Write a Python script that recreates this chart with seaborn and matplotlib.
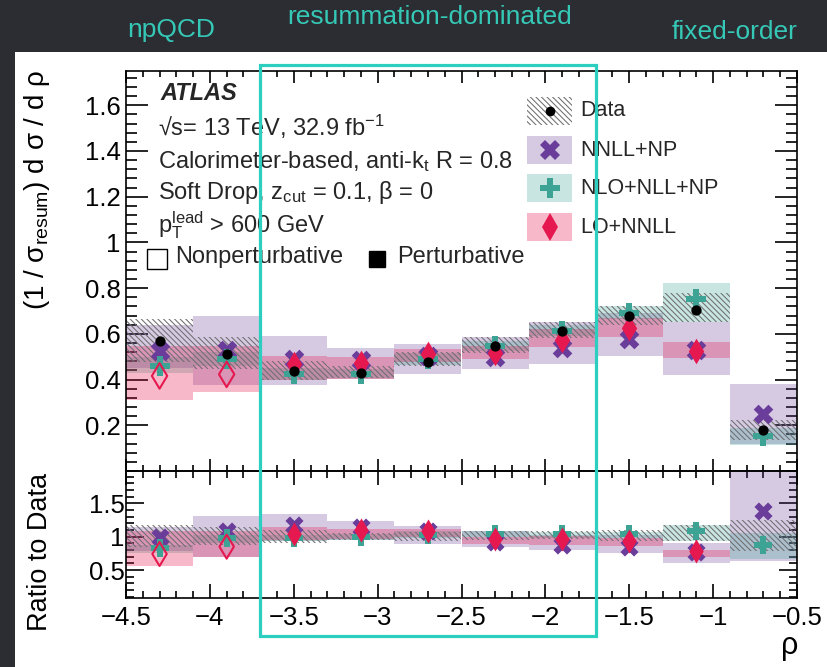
import numpy as np
import pandas as pd
import matplotlib
matplotlib.use("Agg")
import matplotlib.pyplot as plt
import matplotlib.transforms as mtransforms
from matplotlib.patches import Rectangle
from matplotlib.lines import Line2D
from matplotlib.ticker import MultipleLocator, FuncFormatter
import seaborn as sns

# ---------------- data ----------------
rho = [-4.3, -3.9, -3.5, -3.1, -2.7, -2.3, -1.9, -1.5, -1.1, -0.7]
bin_width = 0.4
nonpert = [True, True, False, False, False, False, False, False, False, False]

data_val = [0.569, 0.513, 0.436, 0.428, 0.477, 0.546, 0.614, 0.680, 0.704, 0.178]
data_lo = [0.475, 0.447, 0.397, 0.407, 0.458, 0.518, 0.580, 0.640, 0.650, 0.137]
data_hi = [0.665, 0.585, 0.483, 0.461, 0.520, 0.585, 0.650, 0.720, 0.780, 0.224]

nnll_val = [0.524, 0.531, 0.492, 0.484, 0.503, 0.500, 0.540, 0.578, 0.531, 0.248]
nnll_lo = [0.450, 0.375, 0.378, 0.404, 0.425, 0.447, 0.469, 0.505, 0.420, 0.116]
nnll_hi = [0.640, 0.677, 0.590, 0.538, 0.555, 0.585, 0.650, 0.690, 0.650, 0.382]

nlo_val = [0.459, 0.488, 0.423, 0.423, 0.488, 0.546, 0.611, 0.691, 0.752, 0.151]
nlo_lo = [0.430, 0.460, 0.400, 0.405, 0.465, 0.525, 0.590, 0.665, 0.650, 0.115]
nlo_hi = [0.500, 0.520, 0.450, 0.445, 0.515, 0.570, 0.640, 0.720, 0.824, 0.190]

lo_val = [0.416, 0.423, 0.466, 0.471, 0.510, 0.518, 0.572, 0.626, 0.527]
lo_lo = [0.310, 0.347, 0.396, 0.404, 0.477, 0.490, 0.542, 0.585, 0.494]
lo_hi = [0.548, 0.548, 0.504, 0.500, 0.533, 0.548, 0.620, 0.670, 0.565]

# ratio to data panel
r_data_lo = [0.84, 0.87, 0.90, 0.95, 0.94, 0.95, 0.96, 0.93, 0.93, 0.78]
r_data_hi = [1.17, 1.14, 1.10, 1.06, 1.07, 1.085, 1.085, 1.10, 1.175, 1.25]
r_nnll_val = [0.99, 1.09, 1.17, 1.15, 1.08, 0.92, 0.87, 0.84, 0.77, 1.38]
r_nnll_lo = [0.78, 0.70, 0.93, 0.95, 0.89, 0.84, 0.80, 0.75, 0.61, 0.64]
r_nnll_hi = [1.15, 1.31, 1.34, 1.24, 1.16, 1.08, 1.03, 1.03, 0.91, 2.08]
r_nlo_val = [0.83, 0.98, 0.98, 1.00, 1.03, 1.04, 1.04, 1.04, 1.08, 0.88]
r_nlo_lo = [0.76, 0.90, 0.93, 0.95, 0.98, 0.99, 0.98, 0.98, 0.93, 0.66]
r_nlo_hi = [0.88, 1.02, 1.03, 1.04, 1.08, 1.08, 1.07, 1.07, 1.17, 1.05]
r_lo_val = [0.74, 0.85, 1.04, 1.10, 1.08, 0.96, 0.96, 0.94, 0.78]
r_lo_lo = [0.56, 0.70, 0.95, 0.97, 1.00, 0.89, 0.88, 0.86, 0.70]
r_lo_hi = [1.08, 1.08, 1.15, 1.12, 1.12, 1.00, 1.01, 0.98, 0.80]

legend_labels = ["Data", "NNLL+NP", "NLO+NLL+NP", "LO+NNLL"]
region_labels = ["npQCD", "resummation-dominated", "fixed-order"]
resum_region = (-3.7, -1.7)

# ---------------- style ----------------
sns.set_theme(style="ticks")
plt.rcParams["font.family"] = ["Liberation Sans", "DejaVu Sans"]
plt.rcParams["mathtext.fontset"] = "custom"
plt.rcParams["mathtext.rm"] = "Liberation Sans"
plt.rcParams["mathtext.it"] = "Liberation Sans:italic"
plt.rcParams["hatch.linewidth"] = 0.75
plt.rcParams["axes.linewidth"] = 1.2

PURPLE = "#6a3d9a"
TEAL = "#3da394"
RED = "#e5194f"
HATCH_C = "#6e6e6e"
CYAN = "#2ccfbf"
BG = "#2b2d32"

W, H = 827, 667
fig = plt.figure(figsize=(W / 100, H / 100), dpi=100, facecolor=BG)


def fx(px):
    return px / W


def fy(py):
    return 1 - py / H


# white slide area
fig.add_artist(Rectangle((fx(15), 0), 1 - fx(15), fy(52), transform=fig.transFigure,
                         facecolor="white", edgecolor="none", zorder=-10))

ax1 = fig.add_axes([fx(126), fy(471), fx(797) - fx(126), fy(71) - fy(471)])
ax2 = fig.add_axes([fx(126), fy(598), fx(797) - fx(126), fy(471) - fy(598)])


def bands(ax, x, lo, hi, color, alpha, z, hatch=None):
    lo = np.asarray(lo)
    hi = np.asarray(hi)
    x = np.asarray(x[:len(lo)])
    if hatch:
        ax.bar(x, hi - lo, bottom=lo, width=bin_width, facecolor="none",
               edgecolor=HATCH_C, linewidth=0, hatch=hatch, zorder=z)
    else:
        ax.bar(x, hi - lo, bottom=lo, width=bin_width, color=color, alpha=alpha,
               linewidth=0, zorder=z)


def markers(ax, x, y, marker, color, s, z, open_mask=None):
    x = np.asarray(x[:len(y)])
    y = np.asarray(y)
    if open_mask is None:
        open_mask = np.zeros(len(y), bool)
    open_mask = np.asarray(open_mask[:len(y)])
    if (~open_mask).any():
        sns.scatterplot(x=x[~open_mask], y=y[~open_mask], ax=ax, marker=marker,
                        color=color, s=s, linewidth=0, zorder=z, legend=False)
    if open_mask.any():
        sns.scatterplot(x=x[open_mask], y=y[open_mask], ax=ax, marker=marker,
                        color=color, s=s, linewidth=1.5, zorder=z, legend=False)
        coll = ax.collections[-1]
        coll.set_facecolor("none")
        coll.set_edgecolor(color)


HATCH = "\\" * 6

# main panel
bands(ax1, rho, nnll_lo, nnll_hi, PURPLE, 0.27, 1.0)
bands(ax1, rho, nlo_lo, nlo_hi, TEAL, 0.28, 1.1)
bands(ax1, rho, lo_lo, lo_hi, RED, 0.30, 1.2)
bands(ax1, rho, data_lo, data_hi, None, None, 1.3, hatch=HATCH)
markers(ax1, rho, nnll_val, "X", PURPLE, 200, 3)
markers(ax1, rho, nlo_val, "P", TEAL, 190, 3.1)
markers(ax1, rho, lo_val, "d", RED, 170, 3.2, open_mask=nonpert)
markers(ax1, rho, data_val, "o", "black", 55, 3.3)

# ratio panel
bands(ax2, rho, r_nnll_lo, r_nnll_hi, PURPLE, 0.27, 1.0)
bands(ax2, rho, r_nlo_lo, r_nlo_hi, TEAL, 0.28, 1.1)
bands(ax2, rho, r_lo_lo, r_lo_hi, RED, 0.30, 1.2)
bands(ax2, rho, r_data_lo, r_data_hi, None, None, 1.3, hatch=HATCH)
markers(ax2, rho, r_nnll_val, "X", PURPLE, 170, 3)
markers(ax2, rho, r_nlo_val, "P", TEAL, 160, 3.1)
markers(ax2, rho, r_lo_val, "d", RED, 150, 3.2, open_mask=nonpert)

fmt = FuncFormatter(lambda v, p: ("%g" % v).replace("-", "\u2212"))

for ax in (ax1, ax2):
    ax.set_xlim(-4.5, -0.5)
    ax.set_xlabel("")
    ax.set_ylabel("")
    ax.grid(False)
    ax.set_facecolor("none")
    for sp in ax.spines.values():
        sp.set_visible(True)
        sp.set_color("black")
        sp.set_linewidth(1.2)
    ax.xaxis.set_major_locator(MultipleLocator(0.5))
    ax.xaxis.set_minor_locator(MultipleLocator(0.1))
    ax.tick_params(which="both", direction="in", top=True, right=True,
                   bottom=True, left=True, width=1.2, colors="black",
                   labelsize=18.5)

ax1.set_ylim(0, 1.75)
ax1.yaxis.set_major_locator(MultipleLocator(0.2))
ax1.yaxis.set_minor_locator(MultipleLocator(0.04))
ax1.yaxis.set_major_formatter(fmt)
ax1.tick_params(axis="x", which="major", length=8.5, labelbottom=False)
ax1.tick_params(axis="x", which="minor", length=4.3)
ax1.tick_params(axis="y", which="major", length=16, pad=4)
ax1.tick_params(axis="y", which="minor", length=8)
ax1.set_yticks([0.2, 0.4, 0.6, 0.8, 1.0, 1.2, 1.4, 1.6])

ax2.set_ylim(0.08, 1.985)
ax2.set_yticks([0.5, 1.0, 1.5])
ax2.yaxis.set_minor_locator(MultipleLocator(0.1))
ax2.yaxis.set_major_formatter(fmt)
ax2.xaxis.set_major_formatter(fmt)
ax2.tick_params(axis="x", which="major", length=10, pad=6)
ax2.tick_params(axis="x", which="minor", length=5)
ax2.tick_params(axis="y", which="major", length=13, pad=1)
ax2.tick_params(axis="y", which="minor", length=6)

# axis titles
fig.text(fx(37), fy(70), "(1 / σ$_{\\mathregular{resum}}$) d σ / d ρ", rotation=90,
         ha="center", va="top", fontsize=20, color="black")
fig.text(fx(40), fy(473), "Ratio to Data", rotation=90, ha="center", va="top",
         fontsize=19.5, color="black")
fig.text(fx(790), fy(646), "ρ", ha="center", va="center", fontsize=22, color="black")

# annotations
fig.text(fx(160), fy(93), "ATLAS", fontsize=17, fontweight="bold", fontstyle="italic",
         va="center", ha="left")
ann = [
    (127, "√s= 13 TeV, 32.9 fb$^{\\mathregular{-1}}$"),
    (162, "Calorimeter-based, anti-k$_{\\mathregular{t}}$ R = 0.8"),
    (193, "Soft Drop, z$_{\\mathregular{cut}}$ = 0.1, β = 0"),
    (225, "p$_{\\mathregular{T}}^{\\mathregular{lead}}$ > 600 GeV"),
]
for ypx, t in ann:
    fig.text(fx(158), fy(ypx), t, fontsize=17, va="center", ha="left")

fig.add_artist(Line2D([fx(157)], [fy(259)], marker="s", markersize=14,
                      markerfacecolor="none", markeredgecolor="black",
                      markeredgewidth=1.0, transform=fig.transFigure))
fig.text(fx(175), fy(257), "Nonperturbative", fontsize=17, va="center", ha="left")
fig.add_artist(Line2D([fx(377)], [fy(259)], marker="s", markersize=12,
                      markerfacecolor="black", markeredgecolor="black",
                      transform=fig.transFigure))
fig.text(fx(397), fy(257), "Perturbative", fontsize=17, va="center", ha="left")

# legend (drawn manually, ROOT style)
leg_y = [111, 150, 188, 227]
leg_x0, leg_x1 = 527, 572
box_h = 28
leg_style = [
    dict(face="none", alpha=1, hatch=HATCH, marker="o", mc="black", ms=7),
    dict(face=PURPLE, alpha=0.27, hatch=None, marker="X", mc=PURPLE, ms=14),
    dict(face=TEAL, alpha=0.28, hatch=None, marker="P", mc=TEAL, ms=14),
    dict(face=RED, alpha=0.30, hatch=None, marker="d", mc=RED, ms=14),
]
for ypx, lab, st in zip(leg_y, legend_labels, leg_style):
    if st["hatch"]:
        r = Rectangle((fx(leg_x0), fy(ypx + box_h / 2)), fx(leg_x1) - fx(leg_x0),
                      fy(ypx - box_h / 2) - fy(ypx + box_h / 2), transform=fig.transFigure,
                      facecolor="none", edgecolor=HATCH_C, linewidth=0, hatch=st["hatch"])
    else:
        r = Rectangle((fx(leg_x0), fy(ypx + box_h / 2)), fx(leg_x1) - fx(leg_x0),
                      fy(ypx - box_h / 2) - fy(ypx + box_h / 2), transform=fig.transFigure,
                      facecolor=st["face"], alpha=st["alpha"], edgecolor="none")
    fig.add_artist(r)
    fig.add_artist(Line2D([fx((leg_x0 + leg_x1) / 2)], [fy(ypx)], marker=st["marker"],
                          markersize=st["ms"], color=st["mc"], markeredgewidth=0,
                          linestyle="none", transform=fig.transFigure))
    fig.text(fx(580), fy(ypx), lab, fontsize=15.5, va="center", ha="left")

# highlighted resummation-dominated region
blend = mtransforms.blended_transform_factory(ax1.transData, fig.transFigure)
fig.add_artist(Rectangle((resum_region[0], fy(636)), resum_region[1] - resum_region[0],
                         fy(65) - fy(636), transform=blend, facecolor="none",
                         edgecolor=CYAN, linewidth=2.3, zorder=20, clip_on=False))

# region labels on the slide
for (xpx, ypx), lab in zip([(171, 30), (430, 17), (735, 32)], region_labels):
    fig.text(fx(xpx), fy(ypx), lab, fontsize=19, color="#36c8b6", ha="center",
             va="center")

fig.savefig("out.png", dpi=100, facecolor=BG)
